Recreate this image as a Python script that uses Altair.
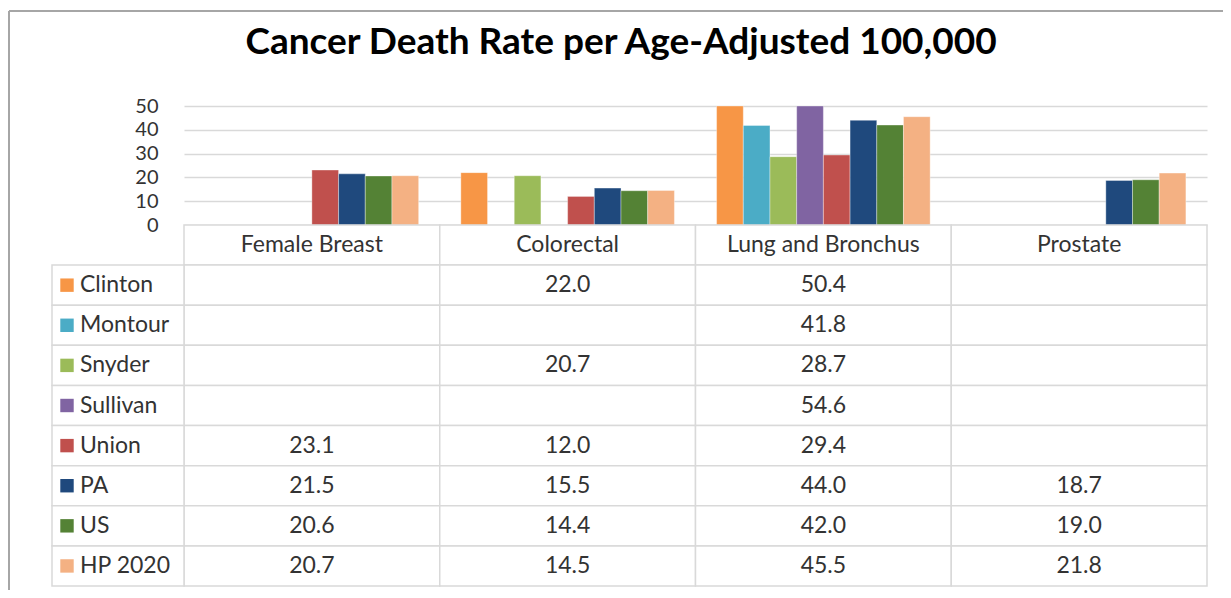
import altair as alt
import pandas as pd

title_text = "Cancer Death Rate per Age-Adjusted 100,000"
categories = ["Female Breast", "Colorectal", "Lung and Bronchus", "Prostate"]
series = ["Clinton", "Montour", "Snyder", "Sullivan", "Union", "PA", "US", "HP 2020"]
colors = ["#F79646", "#4BACC6", "#9BBB59", "#8064A2", "#C0504D", "#1F497D", "#548235", "#F4B183"]

clinton = [None, 22.0, 50.4, None]
montour = [None, None, 41.8, None]
snyder = [None, 20.7, 28.7, None]
sullivan = [None, None, 54.6, None]
union = [23.1, 12.0, 29.4, None]
pa = [21.5, 15.5, 44.0, 18.7]
us = [20.6, 14.4, 42.0, 19.0]
hp2020 = [20.7, 14.5, 45.5, 21.8]

values = [clinton, montour, snyder, sullivan, union, pa, us, hp2020]

FONT = "Lato"
GRID = "#d9d9d9"
HDR = "\u200b"  # header row id

bar_rows = []
table_rows = []
for c_i, cat in enumerate(categories):
    table_rows.append({"category": cat, "row": HDR, "text": cat})
    for s_i, s in enumerate(series):
        v = values[s_i][c_i]
        if v is not None:
            bar_rows.append({"category": cat, "series": s, "value": v})
        table_rows.append({"category": cat, "row": s, "text": "" if v is None else f"{v:.1f}"})
bar_df = pd.DataFrame(bar_rows)
table_df = pd.DataFrame(table_rows)
label_df = pd.DataFrame({"row": series, "series": series})

rows = [HDR] + series

x_enc = alt.X("category:N", scale=alt.Scale(domain=categories, paddingInner=0, paddingOuter=0), axis=None)
row_scale = alt.Scale(domain=rows, range=[119, 480], paddingInner=0, paddingOuter=0)
y_row = alt.Y("row:N", scale=row_scale, axis=None)
color_scale = alt.Scale(domain=series, range=colors)

bars = alt.Chart(bar_df).mark_bar(stroke="white", strokeWidth=0.6, strokeOpacity=0.6).encode(
    x=x_enc,
    xOffset=alt.XOffset("series:N", scale=alt.Scale(domain=series, paddingInner=0, paddingOuter=0.79)),
    y=alt.Y("value:Q",
            scale=alt.Scale(domain=[0, 50], range=[119, 0], clamp=True, nice=False, zero=True),
            axis=alt.Axis(values=[0, 10, 20, 30, 40, 50], grid=True, domain=False, ticks=False,
                          labelFontSize=20, labelFont=FONT, labelColor="#333333", labelPadding=26,
                          gridColor=GRID, gridWidth=1.5, title=None)),
    color=alt.Color("series:N", scale=color_scale, legend=None),
)

cells = alt.Chart(table_df).mark_rect(fill="white", stroke=GRID, strokeWidth=1.5).encode(
    x=x_enc, y=y_row
)

label_cells = alt.Chart(label_df).mark_rect(fill="white", stroke=GRID, strokeWidth=1.5).encode(
    x=alt.value(-132), x2=alt.value(0), y=y_row
)

squares = alt.Chart(label_df).mark_square(size=180, opacity=1).encode(
    x=alt.value(-117), y=y_row,
    color=alt.Color("series:N", scale=color_scale, legend=None),
)

labels = alt.Chart(label_df).mark_text(align="left", baseline="middle", fontSize=23, font=FONT,
                                       color="#333333").encode(
    x=alt.value(-104), y=y_row, text="series:N"
)

texts = alt.Chart(table_df).mark_text(baseline="middle", fontSize=23, font=FONT, color="#333333").encode(
    x=x_enc, y=y_row, text="text:N"
)

frame_df = pd.DataFrame({"k": [0]})
left_border = alt.Chart(frame_df).mark_rule(color="#a6a6a6", strokeWidth=2).encode(
    x=alt.value(-175), x2=alt.value(-175), y=alt.value(-95), y2=alt.value(490)
)
top_border = alt.Chart(frame_df).mark_rule(color="#a6a6a6", strokeWidth=2).encode(
    x=alt.value(-175), x2=alt.value(1040), y=alt.value(-95), y2=alt.value(-95)
)

title_mark = alt.Chart(pd.DataFrame({"t": [title_text]})).mark_text(
    fontSize=37, font=FONT, fontWeight="bold", color="black", align="center", baseline="alphabetic"
).encode(x=alt.value(437), y=alt.value(-52), text="t:N")

chart = alt.layer(
    left_border, top_border, title_mark, bars, cells, label_cells, squares, labels, texts
).resolve_scale(
    y="independent"
).properties(
    width=1023,
    height=480,
    autosize=alt.AutoSizeParams(type="none"),
    padding={"left": 176, "top": 98, "right": 16, "bottom": 4},
).configure_view(stroke=None)

chart.save("out.html", embed_options={"renderer": "svg", "actions": False})
